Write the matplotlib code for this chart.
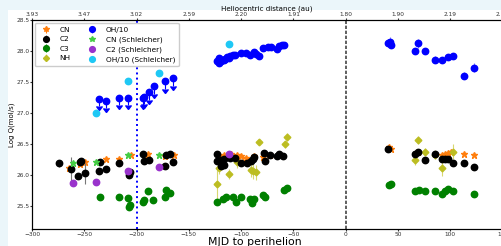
import matplotlib
matplotlib.use("Agg")
import matplotlib.pyplot as plt
from matplotlib.patches import Rectangle
import numpy as np

# ---------------- data ----------------
# OH/10 measured
oh_t = [-122.9, -121.4, -120.7, -119.7, -118.0, -116.6, -115.0, -113.3, -111.5, -110.2,
        -107.6, -105.4, -99.9, -95.8, -91.7, -87.8, -85.6, -82.7, -78.8, -74.4,
        -71.8, -66.1, -63.9, -60.6, -58.7,
        40.5, 42.5, 43.1, 66.4, 69.3, 75.4, 85.2, 92.3, 98.0, 102.5, 113.3, 122.3]
oh_v = [27.84, 27.88, 27.80, 27.83, 27.85, 27.86, 27.87, 27.90, 27.89, 27.92,
        27.94, 27.93, 27.97, 27.96, 27.94, 27.99, 27.95, 27.91, 28.05, 28.07,
        28.06, 28.03, 28.08, 28.10, 28.10,
        28.13, 28.15, 28.10, 28.00, 28.12, 28.00, 27.86, 27.86, 27.90, 27.92, 27.60, 27.73]
oh_e = [0.03] * 25 + [0.06, 0.07, 0.06, 0.05, 0.07, 0.04, 0.05, 0.04, 0.05, 0.05, 0.06, 0.07]

# OH/10 upper limits
ohl_t = [-235.6, -229.6, -216.5, -208.1, -194.0, -192.5, -188.4, -183.6, -172.7, -164.8]
ohl_v = [27.23, 27.19, 27.24, 27.24, 27.24, 27.26, 27.33, 27.43, 27.51, 27.56]
ohl_len = 0.12

# OH/10 Schleicher
ohs_t = [-238.8, -208.1, -178.8, -111.8]
ohs_v = [27.00, 27.51, 27.64, 28.11]

# C2
c2_t = [-274.6, -262.5, -256.0, -253.8, -252.9, -249.7, -235.6, -234.7, -229.6, -216.5,
        -207.6, -206.6, -193.8, -192.5, -188.0, -172.7, -171.8, -167.6, -164.8,
        -122.9, -122.9, -119.0, -116.6, -118.8, -116.0, -110.2, -106.3, -99.9, -94.8,
        -91.0, -88.4, -87.2, -78.3, -77.6, -72.5, -66.1, -63.9, -59.7,
        40.5, 66.4, 69.3, 75.4, 85.2, 92.3, 95.0, 98.0, 102.5, 113.3, 122.3]
c2_v = [26.18, 26.09, 25.98, 26.20, 26.22, 26.02, 26.06, 26.20, 26.09, 26.19,
        26.00, 26.04, 26.34, 26.22, 26.23, 26.14, 26.32, 26.33, 26.20,
        26.34, 26.22, 26.24, 26.25, 26.14, 26.15, 26.27, 26.27, 26.18, 26.18,
        26.22, 26.25, 26.29, 26.35, 26.22, 26.31, 26.30, 26.34, 26.30,
        26.41, 26.34, 26.36, 26.24, 26.33, 26.25, 26.25, 26.25, 26.18, 26.19, 26.12]
c2_e = [0.05, 0.20, 0.04, 0.05, 0.05, 0.17, 0.04, 0.04, 0.05, 0.03,
        0.04, 0.04, 0.03, 0.03, 0.03, 0.03, 0.03, 0.03, 0.03] + [0.02] * 19 + [0.02] * 11

# CN
cn_t = [-265.0, -254.4, -249.0, -229.0, -216.5, -205.3, -189.0, -173.0, -164.4,
        -121.4, -116.0, -110.0, -103.8, -99.9, -95.1, -87.8, -78.8, -72.0, -64.0,
        41.5, 43.8, 69.3, 85.2, 92.3, 95.1, 98.0, 100.6, 113.3, 122.3]
cn_v = [26.10, 26.17, 26.20, 26.26, 26.25, 26.31, 26.33, 26.30, 26.31,
        26.30, 26.31, 26.33, 26.32, 26.30, 26.27, 26.30, 26.29, 26.31, 26.32,
        26.45, 26.42, 26.37, 26.34, 26.32, 26.34, 26.35, 26.36, 26.34, 26.32]

# CN Schleicher
cns_t = [-261.0, -238.5, -208.0, -178.8]
cns_v = [26.19, 26.21, 26.32, 26.32]

# C2 Schleicher
c2s_t = [-260.8, -238.8, -208.1, -178.8, -111.8]
c2s_v = [25.87, 25.88, 26.06, 26.12, 26.33]

# C3
c3_t = [-234.7, -216.5, -208.0, -207.6, -206.0, -193.8, -192.5, -189.0, -183.9, -172.7,
        -171.8, -167.6,
        -122.9, -117.5, -114.0, -107.6, -104.7, -99.9, -91.6, -89.4, -87.2, -78.8,
        -77.6, -59.1, -55.9,
        41.5, 43.8, 66.4, 70.2, 75.4, 85.2, 92.3, 95.1, 98.0, 102.5, 122.3]
c3_v = [25.64, 25.64, 25.62, 25.47, 25.51, 25.56, 25.59, 25.73, 25.59, 25.63,
        25.75, 25.70,
        25.56, 25.60, 25.63, 25.63, 25.56, 25.63, 25.60, 25.54, 25.60, 25.67,
        25.63, 25.75, 25.79,
        25.83, 25.85, 25.73, 25.75, 25.73, 25.74, 25.68, 25.74, 25.77, 25.74, 25.68]

# NH
nh_t = [-123.0, -121.4, -111.8, -103.8, -91.0, -88.4, -86.2, -83.0, -58.4, -56.5,
        66.4, 69.3, 75.4, 85.2, 92.3, 102.5]
nh_v = [25.85, 26.11, 26.01, 26.21, 26.08, 26.05, 26.04, 26.53, 26.49, 26.61,
        26.23, 26.56, 26.37, 26.32, 26.10, 26.37]
nh_e = [0.25, 0.10, 0.08, 0.10, 0.12, 0.12, 0.12, 0.05, 0.06, 0.06,
        0.07, 0.07, 0.06, 0.07, 0.12, 0.12]

# axes ticks
xticks = [-300, -250, -200, -150, -100, -50, 0, 50, 100, 150]
rh_labels = ['3.93', '3.47', '3.02', '2.59', '2.20', '1.91', '1.80', '1.90', '2.19', '2.50']
yticks = [25.5, 26.0, 26.5, 27.0, 27.5, 28.0, 28.5]
vline_blue = -200
vline_peri = 0

# ---------------- figure ----------------
fig = plt.figure(figsize=(5.02, 2.46), dpi=100, facecolor='#ebf6fa')
fig.patches.append(Rectangle((8 / 502, 0), 1, (246 - 10) / 246, transform=fig.transFigure,
                             facecolor='white', edgecolor='none', zorder=-5))
L, R, T, B = 32, 502.5, 20, 229
ax = fig.add_axes([L / 502, (246 - B) / 246, (R - L) / 502, (B - T) / 246])
ax.set_facecolor('white')

ms = 4.6
elw = 0.8

ax.axvline(vline_blue, color='blue', ls=':', lw=1.4, zorder=1)
ax.axvline(vline_peri, color='#444444', ls=(0, (2, 1)), lw=1.2, zorder=1)

h_cn = ax.errorbar(cn_t, cn_v, yerr=0.015, fmt='*', color='#ff7f0e', ms=ms, ecolor='#ff7f0e',
                   elinewidth=elw, label='CN', zorder=3)
h_c2 = ax.errorbar(c2_t, c2_v, yerr=c2_e, fmt='o', color='black', ms=ms, ecolor='#777777',
                   elinewidth=elw, label='C2', zorder=4)
h_c3 = ax.errorbar(c3_t, c3_v, yerr=0.015, fmt='o', color='green', ms=ms, ecolor='green',
                   elinewidth=elw, label='C3', zorder=3)
h_nh = ax.errorbar(nh_t, nh_v, yerr=nh_e, fmt='D', color='#bcbd22', ms=3.4, ecolor='#d8d870',
                   elinewidth=elw, label='NH', zorder=3)
h_oh = ax.errorbar(oh_t, oh_v, yerr=oh_e, fmt='o', color='blue', ms=ms, ecolor='#7777ff',
                   elinewidth=elw, label='OH/10', zorder=3)
ax.errorbar(ohl_t, ohl_v, yerr=ohl_len, uplims=True, fmt='o', color='blue', ms=ms,
            ecolor='blue', elinewidth=elw, capsize=2.0, zorder=3)
h_cns, = ax.plot(cns_t, cns_v, '*', color='#44cc44', ms=ms, label='CN (Schleicher)', zorder=5)
h_c2s, = ax.plot(c2s_t, c2s_v, 'o', color='#9933cc', ms=ms, label='C2 (Schleicher)', zorder=5)
h_ohs, = ax.plot(ohs_t, ohs_v, 'o', color='#1ec8f5', ms=ms, label='OH/10 (Schleicher)', zorder=5)

ax.set_xlim(-300, 150)
ax.set_ylim(25.12, 28.5)
ax.set_xticks(xticks)
ax.set_yticks(yticks)
ax.tick_params(labelsize=4.2, length=1.5, pad=0.5, colors='#333333')
ax.set_xlabel('MJD to perihelion', fontsize=7.8, labelpad=0)
ax.xaxis.label.set_x(0.474)
ax.set_ylabel('Log Q(mol/s)', fontsize=5, labelpad=1)

ax2 = ax.twiny()
ax2.set_xlim(-300, 150)
ax2.set_xticks(xticks)
ax2.set_xticklabels(rh_labels)
ax2.tick_params(labelsize=4.2, length=1.5, pad=0.6, colors='#333333')
ax2.set_xlabel('Heliocentric distance (au)', fontsize=5.1, labelpad=1)

handles = [h_cn, h_c2, h_c3, h_nh, h_oh, h_cns, h_c2s, h_ohs]
labels = ['CN', 'C2', 'C3', 'NH', 'OH/10', 'CN (Schleicher)', 'C2 (Schleicher)',
          'OH/10 (Schleicher)']
ax.legend(handles, labels, loc='upper left', ncol=2, fontsize=5.3, handlelength=2.0,
          handletextpad=0.8, columnspacing=2.0, labelspacing=0.45, borderaxespad=0.4,
          borderpad=0.5, framealpha=1, edgecolor='#cccccc', markerscale=0.9)

fig.savefig('out.png', dpi=100, facecolor=fig.get_facecolor())
